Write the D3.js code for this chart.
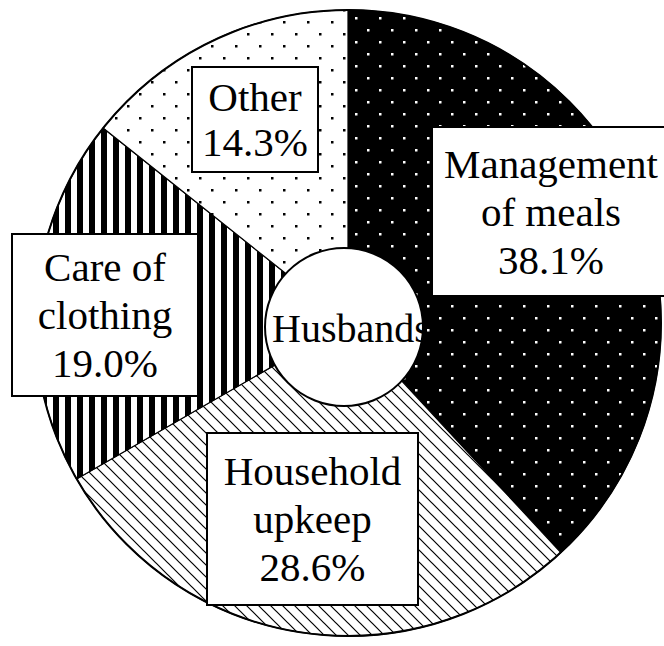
<!DOCTYPE html>
<html><head><meta charset="utf-8">
<script src="https://cdn.jsdelivr.net/npm/d3@7"></script>
<style>body{margin:0;background:#fff}svg{display:block}text{font-family:'Liberation Serif','Times New Roman',serif}</style>
</head><body>
<svg id="c" width="664" height="646"></svg>
<script>
const categories = ["Management of meals", "Household upkeep", "Care of clothing", "Other"];
const values = [38.1, 28.6, 19.0, 14.3];
const labelLines = [["Management", "of meals", "38.1%"], ["Household", "upkeep", "28.6%"], ["Care of", "clothing", "19.0%"], ["Other", "14.3%"]];
const centerLabel = "Husbands";

// layout (not data)
const W = 664, H = 646;
const cx = 348, cy = 323, R = 313;
const innerC = {x: 344, y: 327, r: 79};
const fills = ["url(#pMeals)", "url(#pUpkeep)", "url(#pClothing)", "url(#pOther)"];
const boxes = [
  {x0: 432, y0: 127, x1: 670, y1: 296},
  {x0: 207, y0: 433, x1: 418, y1: 605},
  {x0: 12, y0: 234, x1: 198, y1: 396},
  {x0: 192, y0: 67, x1: 318, y1: 172}
];
const fontSize = 41, lineH = 48;
const FONT = "'Liberation Serif', 'Times New Roman', serif";

const svg = d3.select("#c");
const defs = svg.append("defs");

// black with white dots
let p = defs.append("pattern").attr("id", "pMeals").attr("patternUnits", "userSpaceOnUse")
  .attr("width", 24).attr("height", 24).attr("x", 7).attr("y", 6);
p.append("rect").attr("width", 24).attr("height", 24).attr("fill", "#000");
p.append("rect").attr("x", 0).attr("y", 0).attr("width", 2.5).attr("height", 2.5).attr("fill", "#fff");
p.append("rect").attr("x", 12).attr("y", 12).attr("width", 2.5).attr("height", 2.5).attr("fill", "#fff");

// white with black dots
p = defs.append("pattern").attr("id", "pOther").attr("patternUnits", "userSpaceOnUse")
  .attr("width", 24).attr("height", 24).attr("x", 7).attr("y", 10);
p.append("rect").attr("width", 24).attr("height", 24).attr("fill", "#fff");
p.append("rect").attr("x", 0).attr("y", 0).attr("width", 2.5).attr("height", 2.5).attr("fill", "#000");
p.append("rect").attr("x", 12).attr("y", 12).attr("width", 2.5).attr("height", 2.5).attr("fill", "#000");

// vertical stripes
p = defs.append("pattern").attr("id", "pClothing").attr("patternUnits", "userSpaceOnUse")
  .attr("width", 12).attr("height", 12).attr("x", 5);
p.append("rect").attr("width", 12).attr("height", 12).attr("fill", "#fff");
p.append("rect").attr("x", 0).attr("width", 6).attr("height", 12).attr("fill", "#000");

// diagonal "\" lines
const dp = 12;
p = defs.append("pattern").attr("id", "pUpkeep").attr("patternUnits", "userSpaceOnUse")
  .attr("width", dp).attr("height", dp);
p.append("rect").attr("width", dp).attr("height", dp).attr("fill", "#fff");
p.append("path").attr("d", `M-4,-4L${dp + 4},${dp + 4}M-4,${dp - 4}L4,${dp + 4}M${dp - 4},-4L${dp + 4},4`)
  .attr("stroke", "#000").attr("stroke-width", 1.2);

const pie = d3.pie().sort(null).value(d => d).startAngle(0).endAngle(2 * Math.PI);
const arc = d3.arc().innerRadius(0).outerRadius(R);
const arcs = pie(values);

const g = svg.append("g").attr("transform", `translate(${cx},${cy})`);
g.selectAll("path.slice").data(arcs).join("path")
  .attr("class", "slice")
  .attr("d", arc)
  .attr("fill", (d, i) => fills[i])
  .attr("stroke", "#000").attr("stroke-width", 1.2);
g.append("circle").attr("r", R).attr("fill", "none").attr("stroke", "#000").attr("stroke-width", 2);

// center circle
svg.append("circle").attr("cx", innerC.x).attr("cy", innerC.y).attr("r", innerC.r)
  .attr("fill", "#fff").attr("stroke", "#000").attr("stroke-width", 2);
svg.append("text").attr("x", innerC.x - innerC.r + 7).attr("y", innerC.y + 15)
  .attr("text-anchor", "start").style("font-family", FONT)
  .attr("font-size", 40).attr("fill", "#000").text(centerLabel);

// label boxes
const lab = svg.selectAll("g.lab").data(arcs).join("g").attr("class", "lab");
lab.append("rect")
  .attr("x", (d, i) => boxes[i].x0).attr("y", (d, i) => boxes[i].y0)
  .attr("width", (d, i) => boxes[i].x1 - boxes[i].x0).attr("height", (d, i) => boxes[i].y1 - boxes[i].y0)
  .attr("fill", "#fff").attr("stroke", "#000").attr("stroke-width", 2);
lab.each(function(d, i) {
  const b = boxes[i];
  const lines = labelLines[i];
  const lh = lines.length === 2 ? 45 : lineH;
  const mx = (b.x0 + b.x1) / 2, my = (b.y0 + b.y1) / 2;
  const first = my + 14 - (lines.length - 1) * lh / 2;
  const t = d3.select(this).append("text")
    .attr("text-anchor", "middle").style("font-family", FONT)
    .attr("font-size", fontSize).attr("fill", "#000");
  lines.forEach((s, k) => t.append("tspan").attr("x", mx).attr("y", first + k * lh).text(s));
});
</script>
</body></html>
